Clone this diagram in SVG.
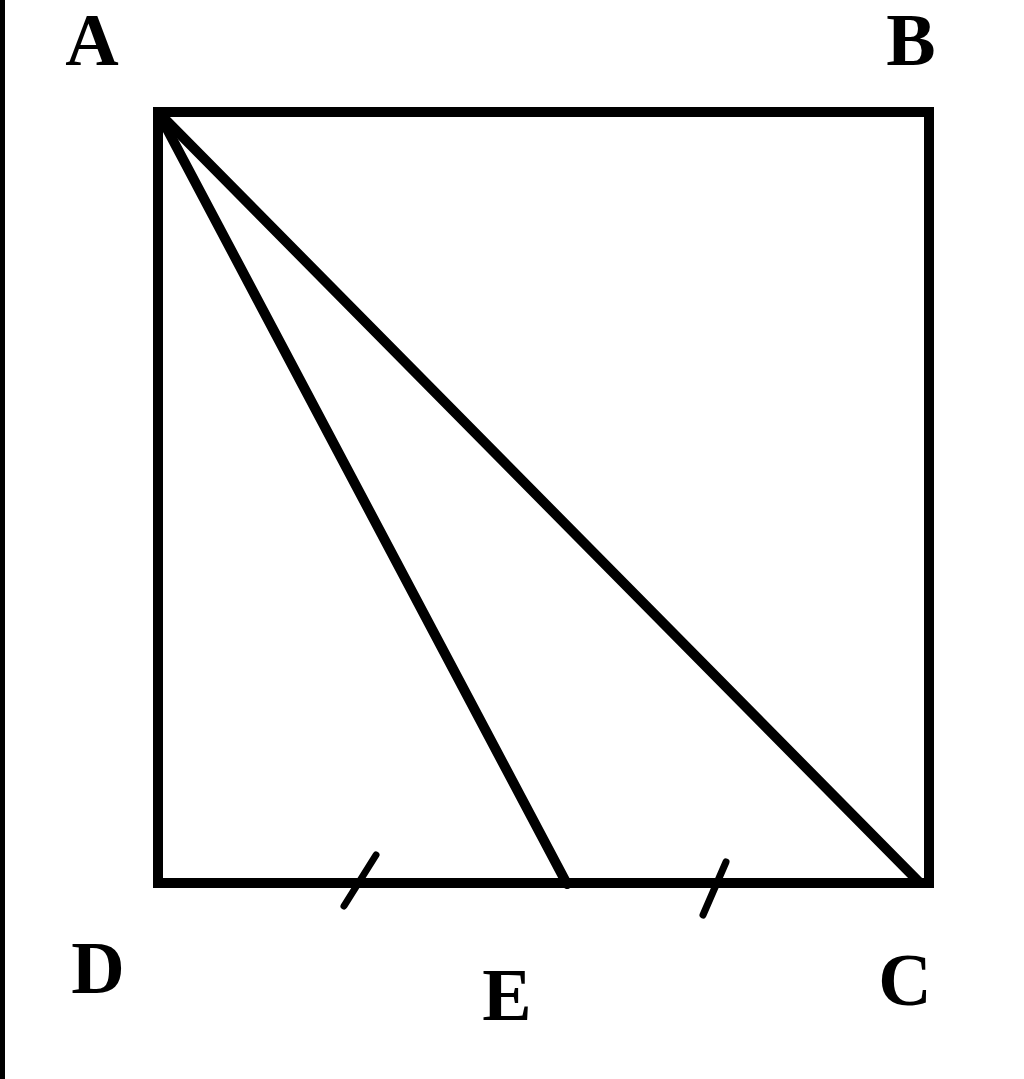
<svg xmlns="http://www.w3.org/2000/svg" width="1024" height="1079" viewBox="0 0 1024 1079">
<style>
.ln{stroke:#000;stroke-width:10;fill:none;stroke-linecap:round;stroke-linejoin:miter}
.tk{stroke:#000;stroke-width:7;fill:none;stroke-linecap:round}
.lb{font-family:"Liberation Serif","Times New Roman",serif;font-weight:bold;font-size:74px;fill:#000;text-anchor:middle}
</style>
<rect x="0" y="0" width="1024" height="1079" fill="#fff"/>
<line x1="2.5" y1="0" x2="2.5" y2="1079" stroke="#000" stroke-width="5"/>
<g id="connectors">
<path class="ln" d="M158 112 H929 V883 H158 Z"/>
<line class="ln" x1="158" y1="112" x2="567" y2="884"/>
<line class="ln" x1="158" y1="112" x2="920" y2="883"/>
<line class="tk" x1="344" y1="906" x2="376" y2="855"/>
<line class="tk" x1="703" y1="915" x2="726" y2="862"/>
</g>
<g id="A"><text class="lb" x="92" y="65">A</text></g>
<g id="B"><text class="lb" x="911" y="65">B</text></g>
<g id="C"><text class="lb" x="905" y="1005">C</text></g>
<g id="D"><text class="lb" x="98" y="993">D</text></g>
<g id="E"><text class="lb" x="507" y="1020">E</text></g>
</svg>
